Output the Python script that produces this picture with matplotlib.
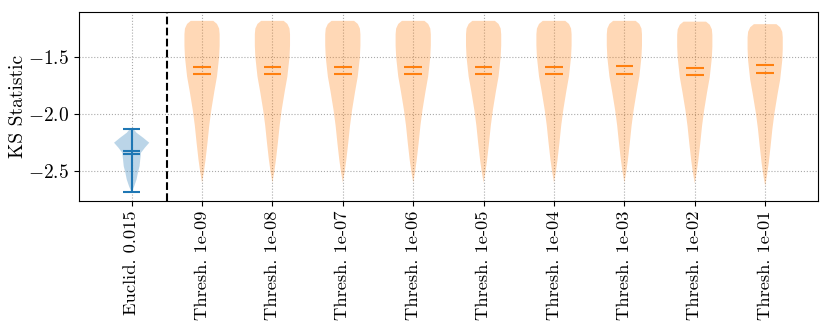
import matplotlib
matplotlib.use("Agg")
import matplotlib.pyplot as plt
import numpy as np

plt.rcParams["font.family"] = ["cmr10", "DejaVu Serif"]
plt.rcParams["mathtext.fontset"] = "cm"
plt.rcParams["axes.formatter.use_mathtext"] = True
plt.rcParams["font.size"] = 14

# labels
euclid_label = "Euclid. 0.015"
thresh_labels = ["Thresh. 1e-09", "Thresh. 1e-08", "Thresh. 1e-07", "Thresh. 1e-06",
                 "Thresh. 1e-05", "Thresh. 1e-04", "Thresh. 1e-03", "Thresh. 1e-02",
                 "Thresh. 1e-01"]

# Euclid violin (density profile, relative half-width)
euclid_coords = [-2.684, -2.675, -2.63, -2.571, -2.51, -2.455, -2.396, -2.338,
                 -2.294, -2.25, -2.207, -2.163, -2.126]
euclid_vals = [0.0, 0.03, 0.15, 0.28, 0.36, 0.45, 0.49, 0.53, 0.75, 1.0, 0.66, 0.28, 0.08]
euclid_mean = -2.32
euclid_median = -2.35

# threshold violins: shared shape, per-violin top / mean / median
thresh_coords = [-2.60, -2.57, -2.51, -2.40, -2.25, -2.10, -1.96, -1.80, -1.67,
                 -1.60, -1.50, -1.40, -1.30, -1.25, -1.21, -1.183]
thresh_vals = [0.0, 0.03, 0.10, 0.20, 0.31, 0.41, 0.53, 0.70, 0.85,
               0.90, 0.97, 1.0, 1.0, 0.97, 0.85, 0.64]
thresh_top = [-1.183, -1.183, -1.183, -1.183, -1.183, -1.183, -1.183, -1.19, -1.212]
thresh_mean = [-1.585, -1.585, -1.585, -1.585, -1.585, -1.585, -1.58, -1.596, -1.573]
thresh_median = [-1.648, -1.648, -1.648, -1.648, -1.648, -1.648, -1.645, -1.657, -1.637]


def make_stats(coords, vals, mean, median):
    coords = np.asarray(coords, dtype=float)
    return {"coords": coords, "vals": np.asarray(vals, dtype=float),
            "mean": mean, "median": median,
            "min": coords.min(), "max": coords.max()}


fig, ax = plt.subplots(figsize=(8.3, 3.32), dpi=100)

ax.violin([make_stats(euclid_coords, euclid_vals, euclid_mean, euclid_median)],
          positions=[0], widths=0.5, showmeans=True, showextrema=True, showmedians=True)

stats = []
for top, mean, median in zip(thresh_top, thresh_mean, thresh_median):
    shift = top - thresh_coords[-1]
    stats.append(make_stats(np.array(thresh_coords) + shift, thresh_vals, mean, median))
ax.violin(stats, positions=np.arange(1, len(thresh_labels) + 1), widths=0.5,
          showmeans=True, showextrema=False, showmedians=True)

ax.axvline(0.5, color="k", linestyle="--", linewidth=1.5)

ax.set_xticks(np.arange(len(thresh_labels) + 1))
ax.set_xticklabels([euclid_label] + thresh_labels, rotation=90, fontsize=13.3)
ax.set_xlim(-0.75, len(thresh_labels) + 0.75)
ax.set_yticks([-2.5, -2.0, -1.5])
ax.set_ylabel("KS Statistic", fontsize=14, labelpad=1)
ax.grid(True, linestyle=":", color="#aaaaaa", linewidth=0.8)
ax.set_axisbelow(True)

fig.subplots_adjust(left=0.095, right=0.9855, top=0.963, bottom=0.395)
fig.savefig("out.png", dpi=100)
plt.close(fig)
